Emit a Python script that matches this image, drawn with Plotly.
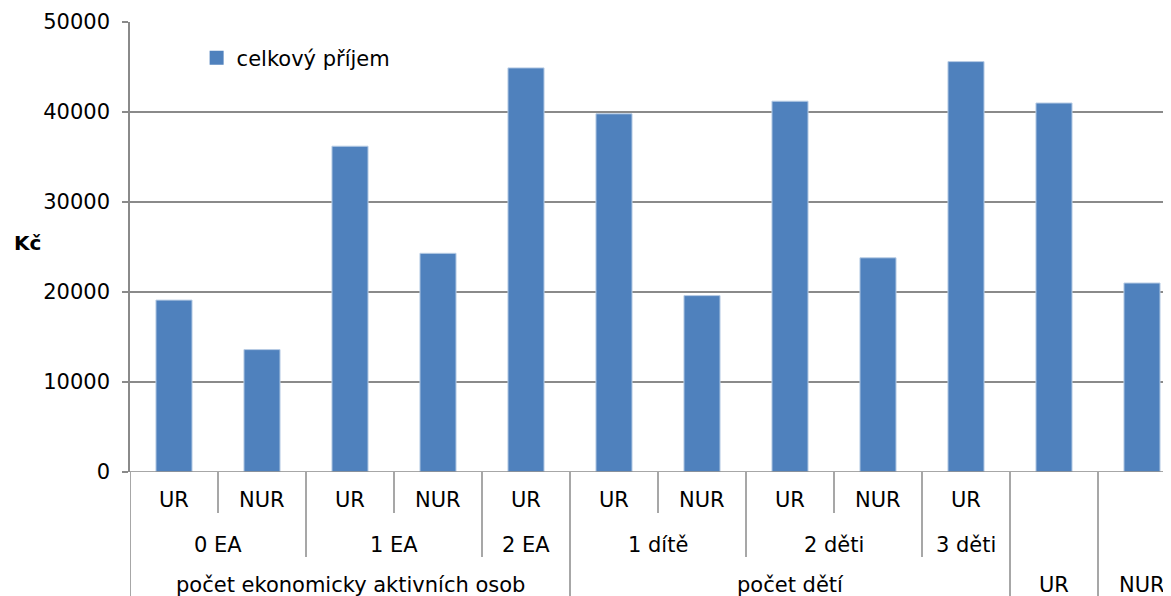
import plotly.graph_objects as go

# bottom-level labels, one per bar
sub_labels = ["UR", "NUR", "UR", "NUR", "UR", "UR", "NUR", "UR", "NUR", "UR", "", ""]
# middle-level groups: (label, first bar, last bar)
group_labels = [("0 EA", 0, 1), ("1 EA", 2, 3), ("2 EA", 4, 4),
                ("1 dítě", 5, 6), ("2 děti", 7, 8), ("3 děti", 9, 9)]
# top-level groups
top_labels = [("počet ekonomicky aktivních osob", 0, 4), ("počet dětí", 5, 9),
              ("UR", 10, 10), ("NUR", 11, 11)]
values = [19100, 13600, 36200, 24300, 44900, 39800, 19600, 41200, 23800, 45600, 41000, 21000]
series_name = "celkový příjem"

FONT = "DejaVu Sans"
FS = 21
GRID = "#8a8a8a"
BAR = "#4f81bd"

fig = go.Figure()
fig.add_trace(go.Bar(
    x=list(range(len(values))), y=values, name=series_name,
    width=0.41, marker=dict(color=BAR, line=dict(color="#b9cde5", width=1)),
    showlegend=False))
# legend entry with a bigger square swatch
fig.add_trace(go.Scatter(
    x=[None], y=[None], mode="markers", name=series_name,
    marker=dict(symbol="square", size=14, color=BAR), showlegend=True))

# row positions in paper units (plot area is 450px tall)
row_y = [-0.062, -0.162, -0.25]
sep_len = {"short": -0.091, "medium": -0.189, "full": -0.30}


def group_of(groups, i):
    for name, a, b in groups:
        if a <= i <= b:
            return (name, a)
    return None


annotations = []
for i, lab in enumerate(sub_labels):
    if lab:
        annotations.append(dict(x=i, y=row_y[0], text=lab))
for name, a, b in group_labels:
    annotations.append(dict(x=(a + b) / 2, y=row_y[1], text=name))
for name, a, b in top_labels:
    annotations.append(dict(x=(a + b) / 2, y=row_y[2], text=name))
for an in annotations:
    an.update(xref="x", yref="paper", showarrow=False, yanchor="middle",
              font=dict(family=FONT, size=FS, color="black"))

annotations.append(dict(x=-0.113, y=0.51, xref="paper", yref="paper", text="<b>Kč</b>",
                        xanchor="left", yanchor="middle", showarrow=False,
                        font=dict(family=FONT, size=20, color="black")))

shapes = []
for i in range(len(values)):
    if i == 0:
        kind = "full"
    elif group_of(top_labels, i) != group_of(top_labels, i - 1):
        kind = "full"
    elif group_of(group_labels, i) != group_of(group_labels, i - 1):
        kind = "medium"
    else:
        kind = "short"
    shapes.append(dict(type="line", xref="x", yref="paper", x0=i - 0.5, x1=i - 0.5,
                       y0=0, y1=sep_len[kind], line=dict(color=GRID, width=1.5)))
shapes.append(dict(type="line", xref="paper", yref="y", x0=0, x1=1, y0=0, y1=0,
                   line=dict(color=GRID, width=1.5)))

# the page body has an 8px margin, so the figure is 8px smaller than the window
fig.update_layout(
    width=1163, height=588,
    margin=dict(l=122, r=0, t=14, b=124),
    paper_bgcolor="white", plot_bgcolor="white",
    font=dict(family=FONT, size=FS, color="black"),
    xaxis=dict(range=[-0.5, -0.5 + 1041 / 88], showticklabels=False, ticks="",
               showgrid=False, zeroline=False, showline=False),
    yaxis=dict(range=[0, 50000], tickvals=[0, 10000, 20000, 30000, 40000, 50000],
               ticktext=["0", "10000", "20000", "30000", "40000", "50000"],
               showgrid=True, gridcolor=GRID, gridwidth=1.5, zeroline=False,
               showline=True, linecolor=GRID, linewidth=1.5,
               ticks="outside", ticklen=6, tickcolor=GRID, tickwidth=1.5,
               ticklabelstandoff=8,
               tickfont=dict(family=FONT, size=FS, color="black")),
    legend=dict(x=0.064, y=0.92, xanchor="left", yanchor="middle",
                bgcolor="rgba(0,0,0,0)", font=dict(family=FONT, size=FS, color="black"),
                itemwidth=30),
    annotations=annotations,
    shapes=shapes,
)

fig.write_html("out.html")
